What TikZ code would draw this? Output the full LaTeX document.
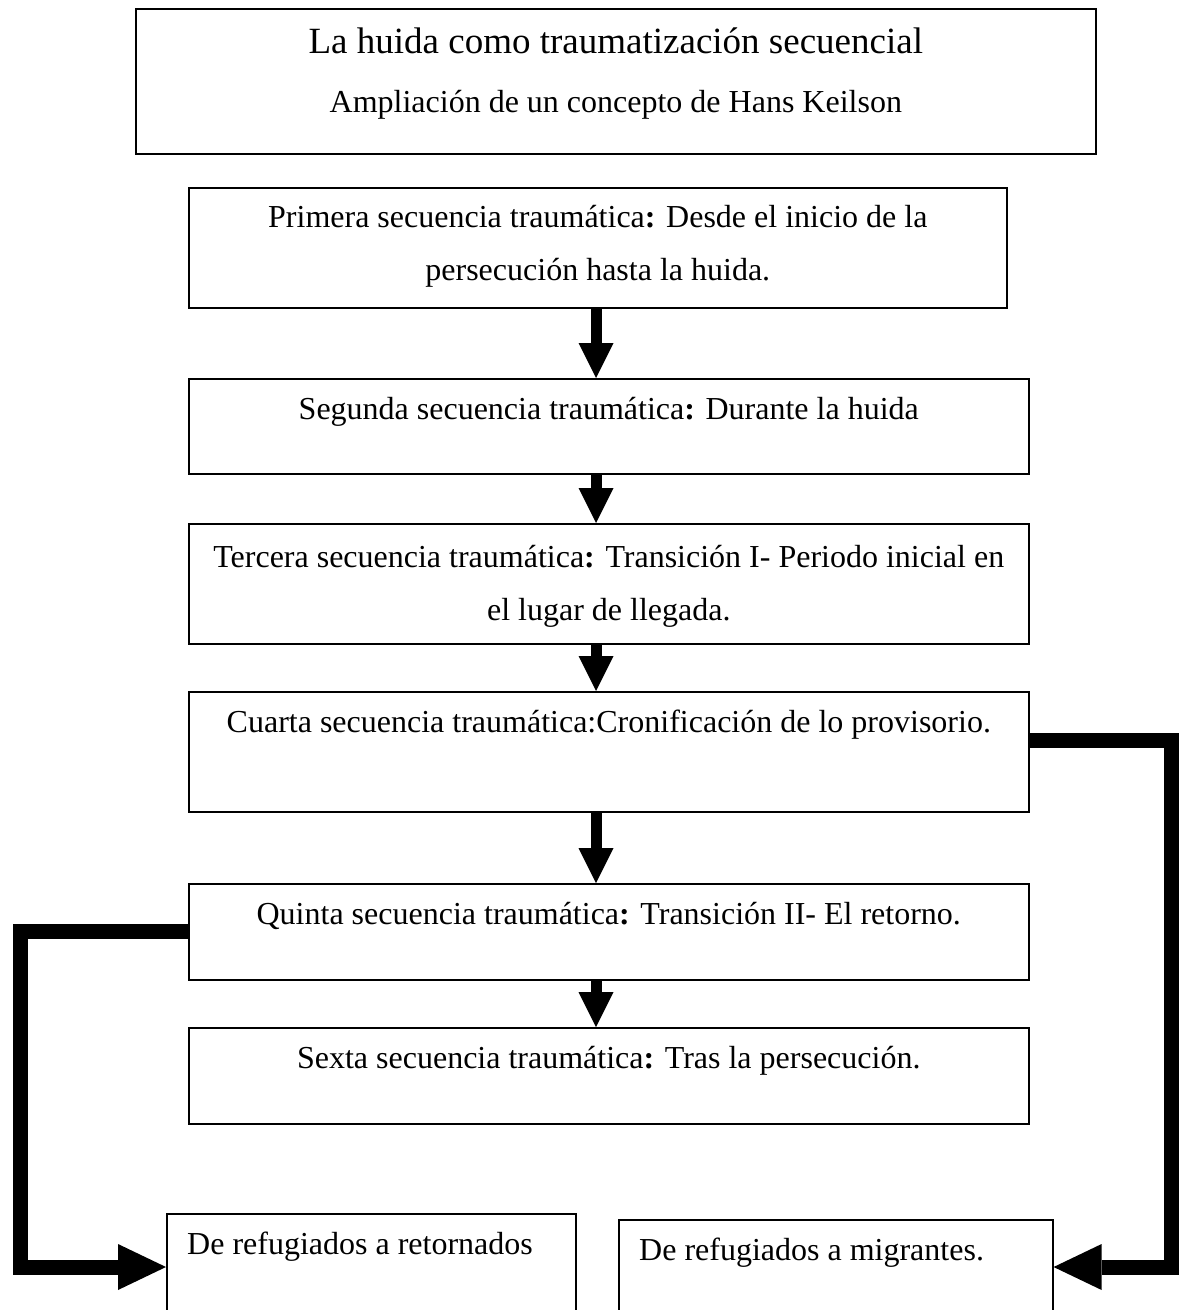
\documentclass[tikz,border=0pt]{standalone}
\usepackage{fontspec}
\setmainfont{Liberation Serif}
\usetikzlibrary{arrows.meta}
\tikzstyle{seqbox} = [rectangle, draw=black, line width=1.6pt, inner sep=0pt, anchor=north west]
\tikzstyle{txt} = [inner sep=0pt, anchor=base, font=\fontsize{32}{38}\selectfont]
\tikzstyle{bigtxt} = [inner sep=0pt, anchor=base, font=\fontsize{37}{44}\selectfont]
\tikzstyle{lefttxt} = [txt, anchor=base west]
\tikzstyle{arrow} = [line width=11pt, -{Triangle[length=35pt, width=35pt, line width=0pt]}]
\tikzstyle{elbowarrow} = [line width=15pt, -{Triangle[length=48pt, width=46pt, line width=0pt]}]
\begin{document}
\begin{tikzpicture}[x=1pt, y=-1pt]
            \useasboundingbox (0,0) rectangle (1182,1310);
            \node (title) [seqbox, minimum width=960pt, minimum height=145pt] at (135,8) {};
            \node (box1) [seqbox, minimum width=818pt, minimum height=120pt] at (188,187) {};
            \node (box2) [seqbox, minimum width=840pt, minimum height=95pt] at (188,378) {};
            \node (box3) [seqbox, minimum width=840pt, minimum height=120pt] at (188,523) {};
            \node (box4) [seqbox, minimum width=840pt, minimum height=120pt] at (188,691) {};
            \node (box5) [seqbox, minimum width=840pt, minimum height=96pt] at (188,883) {};
            \node (box6) [seqbox, minimum width=840pt, minimum height=96pt] at (188,1027) {};
            \node (retorno) [seqbox, minimum width=409pt, minimum height=100pt] at (166,1213) {};
            \node (migra) [seqbox, minimum width=434pt, minimum height=94pt] at (618,1219) {};

            \node (titleA) [bigtxt] at ([yshift=-45pt]title.north) {La huida como traumatización secuencial};
            \node (titleB) [txt] at ([yshift=-104pt]title.north) {Ampliación de un concepto de Hans Keilson};
            \node (text1a) [txt] at ([yshift=-40pt]box1.north) {Primera secuencia traumática\textbf{:} Desde el inicio de la};
            \node (text1b) [txt] at ([yshift=-93pt]box1.north) {persecución hasta la huida.};
            \node (text2) [txt] at ([yshift=-41pt]box2.north) {Segunda secuencia traumática\textbf{:} Durante la huida};
            \node (text3a) [txt] at ([yshift=-44pt]box3.north) {Tercera secuencia traumática\textbf{:} Transición I- Periodo inicial en};
            \node (text3b) [txt] at ([yshift=-97pt]box3.north) {el lugar de llegada.};
            \node (text4) [txt] at ([yshift=-41pt]box4.north) {Cuarta secuencia traumática:Cronificación de lo provisorio.};
            \node (text5) [txt] at ([yshift=-41pt]box5.north) {Quinta secuencia traumática\textbf{:} Transición II- El retorno.};
            \node (text6) [txt] at ([yshift=-41pt]box6.north) {Sexta secuencia traumática\textbf{:} Tras la persecución.};
            \node (text7) [lefttxt] at ([xshift=21pt, yshift=-41pt]retorno.north west) {De refugiados a retornados};
            \node (text8) [lefttxt] at ([xshift=21pt, yshift=-41pt]migra.north west) {De refugiados a migrantes.};

            \coordinate (axis) at (596,0);
            \coordinate (lft1) at (20,931);
            \coordinate (lft2) at (20,1267);
            \coordinate (rgt1) at (1171,740);
            \coordinate (rgt2) at (1171,1267);

            \draw [arrow] (box1.south -| axis) -- (box2.north -| axis);
            \draw [arrow] (box2.south -| axis) -- (box3.north -| axis);
            \draw [arrow] (box3.south -| axis) -- (box4.north -| axis);
            \draw [arrow] (box4.south -| axis) -- (box5.north -| axis);
            \draw [arrow] (box5.south -| axis) -- (box6.north -| axis);
            \draw [elbowarrow] (box5.west |- lft1) -- (lft1) -- (lft2) -- (retorno.west |- lft2);
            \draw [elbowarrow] (box4.east |- rgt1) -- (rgt1) -- (rgt2) -- (migra.east |- rgt2);
        \end{tikzpicture}
\end{document}
